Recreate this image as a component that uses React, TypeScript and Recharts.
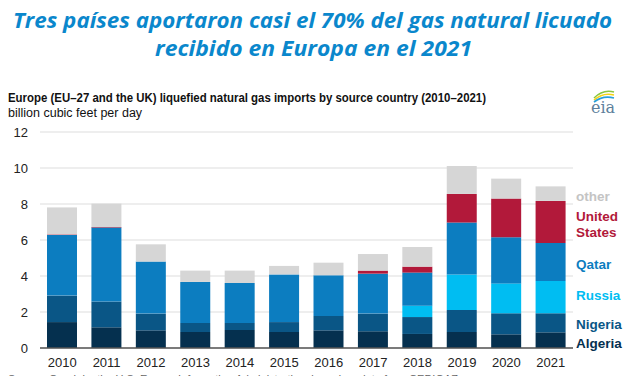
import { BarChart, Bar, XAxis, YAxis, CartesianGrid } from "recharts";

const years = ["2010", "2011", "2012", "2013", "2014", "2015", "2016", "2017", "2018", "2019", "2020", "2021"];
const algeria = [1.44, 1.15, 0.98, 0.89, 1.0, 0.89, 0.98, 0.93, 0.78, 0.89, 0.76, 0.87];
const nigeria = [1.47, 1.43, 0.93, 0.5, 0.39, 0.55, 0.8, 0.98, 0.94, 1.22, 1.17, 1.06];
const russia = [0, 0, 0, 0, 0, 0, 0, 0, 0.63, 1.98, 1.66, 1.79];
const qatar = [3.37, 4.11, 2.89, 2.28, 2.22, 2.65, 2.26, 2.22, 1.84, 2.88, 2.56, 2.11];
const unitedStates = [0.03, 0.03, 0, 0, 0, 0, 0, 0.17, 0.33, 1.59, 2.15, 2.34];
const other = [1.5, 1.3, 0.96, 0.63, 0.69, 0.47, 0.7, 0.92, 1.09, 1.55, 1.11, 0.81];
const yTicks = [0, 2, 4, 6, 8, 10, 12];

const series = [
  { key: "algeria", name: "Algeria", color: "#05304f", labelY: 343 },
  { key: "nigeria", name: "Nigeria", color: "#0a5686", labelY: 324 },
  { key: "russia", name: "Russia", color: "#00bdf2", labelY: 295 },
  { key: "qatar", name: "Qatar", color: "#0c7dc0", labelY: 264 },
  { key: "unitedStates", name: "United|States", color: "#b2193a", labelY: 216 },
  { key: "other", name: "other", color: "#d6d6d6", labelY: 196 },
];

const data = years.map((year, i) => ({
  year,
  algeria: algeria[i],
  nigeria: nigeria[i],
  russia: russia[i],
  qatar: qatar[i],
  unitedStates: unitedStates[i],
  other: other[i],
}));

const font = "'Liberation Sans', Arial, sans-serif";
const legendColors: Record<string, string> = {
  other: "#c4c4c4",
};

export default function App() {
  return (
    <div
      style={{
        position: "absolute",
        top: 0,
        left: 0,
        width: 627,
        height: 376,
        overflow: "hidden",
        background: "#fff",
        fontFamily: font,
      }}
    >
      <BarChart
        width={627}
        height={376}
        data={data}
        margin={{ top: 132, right: 54, bottom: 8, left: 0 }}
        barSize={30}
      >
        <CartesianGrid vertical={false} stroke="#dedede" strokeWidth={1.2} />
        <YAxis
          width={40}
          domain={[0, 12]}
          ticks={yTicks}
          axisLine={false}
          tickLine={false}
          tickSize={0}
          tickMargin={12}
          tick={{ fontSize: 13, fill: "#222", fontFamily: font }}
          interval={0}
        />
        <XAxis
          dataKey="year"
          height={20}
          tickLine={false}
          tickSize={0}
          tickMargin={10}
          axisLine={{ stroke: "#555", strokeWidth: 1.5 }}
          tick={{ fontSize: 13, fill: "#222", fontFamily: font }}
          interval={0}
        />
        {series.map((s) => (
          <Bar key={s.key} dataKey={s.key} stackId="a" fill={s.color} isAnimationActive={false} />
        ))}
      </BarChart>

      <svg
        width={627}
        height={376}
        style={{ position: "absolute", top: 0, left: 0, pointerEvents: "none" }}
      >
        <g fill="#0a87cc" fontFamily="'Open Sans', sans-serif" fontWeight="bold" fontStyle="italic" fontSize={21}>
          <text x={13} y={28} textLength={599} lengthAdjust="spacingAndGlyphs">
            Tres países aportaron casi el 70% del gas natural licuado
          </text>
          <text x={155} y={56} textLength={317} lengthAdjust="spacingAndGlyphs">
            recibido en Europa en el 2021
          </text>
        </g>
        <text x={8} y={102} fontSize={12.5} fontWeight="bold" fill="#111" fontFamily={font} textLength={478} lengthAdjust="spacingAndGlyphs">
          Europe (EU–27 and the UK) liquefied natural gas imports by source country (2010–2021)
        </text>
        <text x={8} y={117} fontSize={12.5} fill="#111" fontFamily={font}>
          billion cubic feet per day
        </text>

        {/* eia logo */}
        <g>
          <path d="M594 98 Q603 89 614 92" stroke="#8cc63f" strokeWidth={1.6} fill="none" />
          <path d="M594 100 Q603 92 614 95" stroke="#f5d312" strokeWidth={1.6} fill="none" />
          <path d="M594 102 Q603 95 614 98" stroke="#2aa0dc" strokeWidth={1.6} fill="none" />
          <text x={603} y={113} fontSize={16} textAnchor="middle" fill="#5d7f9c" fontFamily="'DejaVu Serif', serif">
            eia
          </text>
        </g>

        {series.map((s) => {
          const lines = s.name.split("|");
          return (
            <text
              key={s.key}
              x={576}
              y={s.labelY}
              fontSize={13.5}
              fontWeight="bold"
              fill={legendColors[s.key] || s.color}
              fontFamily={font}
              dominantBaseline="central"
            >
              {lines.map((l, i) => (
                <tspan key={l} x={576} dy={i === 0 ? 0 : 15.5}>
                  {l}
                </tspan>
              ))}
            </text>
          );
        })}

        <text x={8} y={383} fontSize={11} fill="#666" fontFamily={font}>
          Source: Graph by the U.S. Energy Information Administration, based on data from CEDIGAZ
        </text>
      </svg>
    </div>
  );
}
